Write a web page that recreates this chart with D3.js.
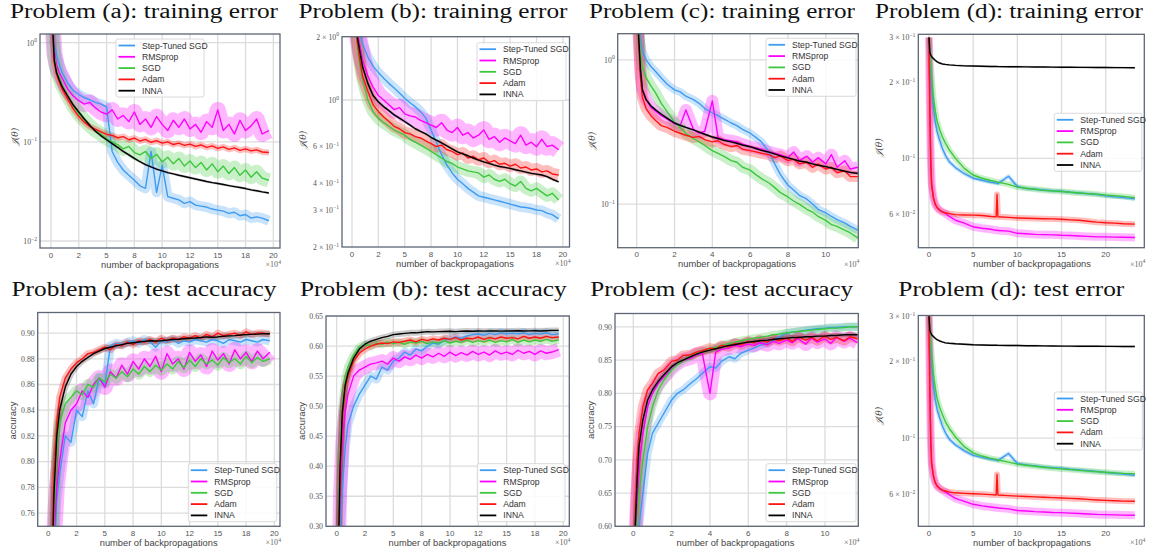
<!DOCTYPE html>
<html><head><meta charset="utf-8">
<script src="https://cdn.jsdelivr.net/npm/d3@7"></script>
<style>body{margin:0;background:#fff}svg{display:block}</style>
</head><body><svg id="c" width="1153" height="554"></svg>
<script>
// ---------------- DATA ----------------
const SERIES = ["Step-Tuned SGD", "RMSprop", "SGD", "Adam", "INNA"];

// x positions (units of 1e4 backpropagations)
const X_AB = [0,0.3,0.5,0.75,1,1.5,2,2.5,3,3.5,4,4.5,5,5.5,6,6.5,7,7.5,8,8.5,9,9.5,10,10.5,11,11.5,12,12.5,13,13.5,14,14.5,15,15.5,16,16.5,17,17.5,18,18.5,19,19.6];
const X_C = [0,0.1,0.2,0.3,0.5,0.75,1,1.3,1.6,2,2.3,2.6,3,3.3,3.6,4,4.3,4.6,5,5.3,5.6,6,6.3,6.6,7,7.3,7.6,8,8.3,8.6,9,9.3,9.6,10,10.3,10.6,11,11.3,11.7];
const X_D = [0,0.1,0.2,0.3,0.5,0.7,0.9,1.2,1.5,1.85,2.3,3,4,5,6,7,7.6,7.7,7.8,9,10,11,12,13,14,15,16,17,18,19,20,21,22,23.3];

// tick labels
const X_TICKS_AB = [0,2.5,5,7.5,10,12.5,15,17.5,20];
const X_LABELS_AB = ["0","2","5","8","10","12","15","18","20"];
const X_TICKS_C = [0,2,4,6,8,10];
const X_LABELS_C = ["0","2","4","6","8","10"];
const X_TICKS_D = [0,5,10,15,20];
const X_LABELS_D = ["0","5","10","15","20"];

const Y_TICKS_A_TRAIN = [1,0.1,0.01];
const Y_LABELS_A_TRAIN = ["10^0","10^\u22121","10^\u22122"];
const Y_TICKS_B_TRAIN = [2,1,0.6,0.4,0.3,0.2];
const Y_LABELS_B_TRAIN = ["2 \u00d7 10^0","10^0","6 \u00d7 10^\u22121","4 \u00d7 10^\u22121","3 \u00d7 10^\u22121","2 \u00d7 10^\u22121"];
const Y_TICKS_C_TRAIN = [1,0.1];
const Y_LABELS_C_TRAIN = ["10^0","10^\u22121"];
const Y_TICKS_D = [0.3,0.2,0.1,0.06];
const Y_LABELS_D = ["3 \u00d7 10^\u22121","2 \u00d7 10^\u22121","10^\u22121","6 \u00d7 10^\u22122"];
const Y_TICKS_A_TEST = [0.76,0.78,0.80,0.82,0.84,0.86,0.88,0.90];
const Y_LABELS_A_TEST = ["0.76","0.78","0.80","0.82","0.84","0.86","0.88","0.90"];
const Y_TICKS_B_TEST = [0.30,0.35,0.40,0.45,0.50,0.55,0.60,0.65];
const Y_LABELS_B_TEST = ["0.30","0.35","0.40","0.45","0.50","0.55","0.60","0.65"];
const Y_TICKS_C_TEST = [0.60,0.65,0.70,0.75,0.80,0.85,0.90];
const Y_LABELS_C_TEST = ["0.60","0.65","0.70","0.75","0.80","0.85","0.90"];

// Problem (a): training error
const A_TRAIN_STEP = [3.0,1.0,0.75,0.6,0.5,0.39,0.33,0.3,0.28,0.265,0.25,0.24,0.225,0.08,0.062,0.052,0.046,0.041,0.036,0.034,0.08,0.031,0.058,0.028,0.027,0.026,0.024,0.025,0.023,0.0225,0.022,0.021,0.0205,0.02,0.019,0.0195,0.018,0.0185,0.017,0.0175,0.017,0.016];
const A_TRAIN_RMS = [3.0,0.8,0.6,0.5,0.44,0.34,0.29,0.26,0.24,0.25,0.22,0.2,0.19,0.21,0.17,0.185,0.16,0.2,0.15,0.17,0.14,0.18,0.15,0.13,0.165,0.14,0.17,0.135,0.15,0.125,0.16,0.14,0.21,0.13,0.15,0.12,0.165,0.13,0.145,0.17,0.12,0.13];
const A_TRAIN_SGD = [3.0,0.72,0.53,0.44,0.37,0.29,0.23,0.19,0.165,0.145,0.13,0.12,0.108,0.1,0.094,0.085,0.09,0.078,0.074,0.08,0.068,0.075,0.063,0.07,0.06,0.068,0.057,0.064,0.055,0.062,0.052,0.06,0.05,0.057,0.048,0.055,0.046,0.052,0.044,0.05,0.043,0.041];
const A_TRAIN_ADAM = [3.0,0.64,0.48,0.4,0.34,0.27,0.215,0.18,0.158,0.142,0.134,0.126,0.119,0.116,0.11,0.113,0.105,0.109,0.102,0.106,0.099,0.103,0.097,0.1,0.094,0.097,0.092,0.095,0.09,0.093,0.088,0.091,0.086,0.089,0.084,0.087,0.082,0.085,0.081,0.083,0.079,0.078];
const A_TRAIN_INNA = [3.0,0.66,0.5,0.42,0.36,0.29,0.235,0.2,0.17,0.146,0.128,0.115,0.105,0.096,0.088,0.08,0.074,0.068,0.063,0.059,0.056,0.053,0.051,0.049,0.0475,0.046,0.0447,0.0435,0.0422,0.041,0.0398,0.0388,0.038,0.0371,0.0362,0.0354,0.0346,0.0338,0.0328,0.0321,0.0313,0.0305];

// Problem (b): training error
const B_TRAIN_STEP = [4.0,3.0,2.4,2.1,1.85,1.6,1.45,1.35,1.27,1.2,1.14,1.08,1.02,0.97,0.93,0.88,0.82,0.72,0.63,0.55,0.49,0.45,0.42,0.4,0.38,0.365,0.35,0.345,0.34,0.335,0.33,0.325,0.32,0.315,0.31,0.308,0.305,0.3,0.298,0.29,0.285,0.272];
const B_TRAIN_RMS = [4.0,2.7,2.1,1.8,1.55,1.3,1.15,1.05,1.0,0.95,0.9,0.92,0.86,0.84,0.83,0.8,0.78,0.76,0.74,0.78,0.72,0.7,0.74,0.68,0.7,0.66,0.68,0.72,0.65,0.67,0.63,0.66,0.64,0.62,0.68,0.61,0.63,0.6,0.65,0.6,0.61,0.58];
const B_TRAIN_SGD = [4.0,2.4,1.8,1.45,1.25,1.0,0.88,0.82,0.78,0.75,0.72,0.7,0.68,0.65,0.63,0.61,0.59,0.57,0.55,0.53,0.51,0.5,0.48,0.47,0.46,0.455,0.45,0.43,0.44,0.42,0.41,0.42,0.4,0.39,0.41,0.38,0.37,0.38,0.365,0.35,0.36,0.335];
const B_TRAIN_ADAM = [4.0,2.5,1.9,1.55,1.3,1.1,0.95,0.88,0.83,0.79,0.75,0.73,0.7,0.69,0.67,0.66,0.64,0.62,0.6,0.61,0.58,0.57,0.55,0.56,0.53,0.54,0.52,0.53,0.505,0.515,0.495,0.5,0.485,0.495,0.475,0.48,0.465,0.47,0.455,0.46,0.445,0.44];
const B_TRAIN_INNA = [4.0,2.6,2.0,1.7,1.44,1.2,1.05,0.98,0.93,0.89,0.85,0.82,0.79,0.76,0.73,0.71,0.69,0.665,0.645,0.625,0.605,0.585,0.567,0.555,0.543,0.53,0.518,0.508,0.5,0.49,0.483,0.478,0.473,0.466,0.46,0.454,0.448,0.444,0.44,0.432,0.42,0.408];

// Problem (c): training error
const C_TRAIN_STEP = [4.0,2.0,1.4,1.15,1.0,0.9,0.83,0.75,0.68,0.62,0.6,0.56,0.53,0.5,0.46,0.43,0.41,0.39,0.365,0.35,0.33,0.31,0.29,0.27,0.23,0.19,0.16,0.135,0.125,0.115,0.108,0.1,0.092,0.087,0.082,0.078,0.074,0.07,0.066];
const C_TRAIN_RMS = [4.0,1.5,0.85,0.63,0.53,0.47,0.44,0.41,0.39,0.36,0.35,0.45,0.33,0.31,0.32,0.52,0.29,0.28,0.275,0.27,0.26,0.25,0.245,0.24,0.23,0.225,0.22,0.21,0.23,0.2,0.215,0.195,0.21,0.19,0.22,0.18,0.2,0.175,0.18];
const C_TRAIN_SGD = [4.0,1.7,1.1,0.9,0.75,0.66,0.59,0.5,0.44,0.37,0.34,0.31,0.285,0.27,0.255,0.235,0.225,0.215,0.2,0.195,0.18,0.172,0.16,0.15,0.14,0.13,0.12,0.112,0.105,0.1,0.092,0.088,0.082,0.077,0.072,0.07,0.066,0.063,0.058];
const C_TRAIN_ADAM = [4.0,1.4,0.75,0.55,0.46,0.41,0.38,0.35,0.34,0.32,0.31,0.3,0.29,0.295,0.28,0.27,0.275,0.26,0.25,0.255,0.24,0.235,0.23,0.225,0.22,0.21,0.215,0.2,0.205,0.19,0.195,0.18,0.19,0.175,0.18,0.165,0.17,0.155,0.155];
const C_TRAIN_INNA = [4.0,1.5,0.85,0.62,0.53,0.48,0.45,0.42,0.395,0.365,0.352,0.34,0.327,0.316,0.305,0.292,0.285,0.277,0.27,0.264,0.257,0.25,0.243,0.236,0.229,0.223,0.216,0.209,0.204,0.199,0.195,0.19,0.186,0.182,0.178,0.174,0.169,0.166,0.163];

// Problem (d): training error
const D_TRAIN_STEP = [0.3,0.25,0.22,0.195,0.16,0.14,0.128,0.118,0.11,0.103,0.097,0.092,0.087,0.0835,0.082,0.0805,0.08,0.0798,0.0795,0.085,0.0775,0.076,0.0755,0.075,0.0745,0.0742,0.0735,0.073,0.0725,0.072,0.0712,0.0705,0.07,0.0692];
const D_TRAIN_RMS = [0.3,0.16,0.1,0.08,0.07,0.066,0.064,0.0625,0.0615,0.0607,0.059,0.057,0.0555,0.0537,0.053,0.0525,0.052,0.0521,0.0519,0.0516,0.0506,0.0504,0.0501,0.05,0.0499,0.0497,0.0496,0.0494,0.0492,0.049,0.049,0.0489,0.0488,0.0487];
const D_TRAIN_SGD = [0.3,0.26,0.232,0.21,0.175,0.155,0.141,0.13,0.122,0.115,0.108,0.1,0.0913,0.086,0.0835,0.0818,0.081,0.0808,0.0806,0.079,0.077,0.0762,0.0755,0.0748,0.0743,0.074,0.0735,0.073,0.0726,0.0722,0.0716,0.0712,0.0708,0.070];
const D_TRAIN_ADAM = [0.3,0.15,0.095,0.078,0.07,0.066,0.064,0.0625,0.0615,0.061,0.0605,0.06,0.0598,0.0597,0.0595,0.059,0.0588,0.072,0.0588,0.0585,0.0582,0.058,0.0579,0.0578,0.0577,0.0575,0.0572,0.057,0.0565,0.056,0.0557,0.0555,0.0552,0.055];
const D_TRAIN_INNA = [0.3,0.262,0.255,0.252,0.248,0.244,0.241,0.238,0.236,0.235,0.234,0.233,0.232,0.2315,0.231,0.2307,0.2305,0.2305,0.2304,0.2302,0.23,0.2298,0.2296,0.2294,0.2292,0.229,0.2289,0.2288,0.2287,0.2285,0.2284,0.2283,0.2282,0.228];

// Problem (a): test accuracy
const A_TEST_STEP = [0.3,0.6,0.73,0.77,0.79,0.82,0.815,0.84,0.835,0.855,0.845,0.865,0.86,0.89,0.892,0.891,0.893,0.894,0.892,0.895,0.893,0.889,0.894,0.893,0.895,0.892,0.894,0.893,0.895,0.894,0.893,0.895,0.894,0.892,0.895,0.894,0.893,0.895,0.894,0.893,0.895,0.894];
const A_TEST_RMS = [0.3,0.62,0.74,0.78,0.8,0.83,0.84,0.845,0.855,0.85,0.86,0.865,0.858,0.87,0.865,0.875,0.868,0.878,0.872,0.88,0.874,0.882,0.87,0.884,0.876,0.88,0.872,0.885,0.878,0.883,0.874,0.886,0.879,0.884,0.876,0.887,0.88,0.885,0.878,0.886,0.88,0.885];
const A_TEST_SGD = [0.3,0.66,0.76,0.81,0.83,0.845,0.85,0.855,0.852,0.86,0.858,0.865,0.862,0.868,0.865,0.87,0.866,0.872,0.868,0.874,0.87,0.875,0.871,0.876,0.872,0.878,0.873,0.879,0.874,0.88,0.876,0.879,0.875,0.881,0.877,0.88,0.876,0.882,0.877,0.881,0.878,0.88];
const A_TEST_ADAM = [0.3,0.72,0.79,0.83,0.85,0.865,0.872,0.877,0.88,0.884,0.885,0.887,0.889,0.887,0.891,0.89,0.893,0.891,0.894,0.893,0.895,0.893,0.896,0.894,0.896,0.895,0.897,0.896,0.898,0.896,0.899,0.897,0.9,0.898,0.899,0.9,0.898,0.901,0.899,0.9,0.9,0.899];
const A_TEST_INNA = [0.3,0.7,0.775,0.82,0.84,0.858,0.868,0.874,0.878,0.881,0.884,0.886,0.888,0.889,0.89,0.891,0.892,0.8925,0.893,0.8935,0.894,0.8938,0.894,0.8945,0.895,0.8952,0.8956,0.896,0.8962,0.8965,0.897,0.8968,0.897,0.8975,0.8978,0.898,0.8985,0.8988,0.899,0.8992,0.8995,0.8995];

// Problem (b): test accuracy
const B_TEST_STEP = [0.1,0.28,0.36,0.43,0.47,0.5,0.52,0.535,0.55,0.545,0.565,0.56,0.575,0.58,0.59,0.585,0.595,0.592,0.6,0.605,0.603,0.61,0.612,0.615,0.613,0.617,0.619,0.62,0.618,0.621,0.619,0.622,0.62,0.621,0.62,0.622,0.619,0.621,0.62,0.622,0.619,0.62];
const B_TEST_RMS = [0.1,0.35,0.44,0.49,0.52,0.55,0.56,0.565,0.57,0.572,0.575,0.57,0.58,0.575,0.582,0.578,0.585,0.58,0.586,0.582,0.588,0.583,0.59,0.584,0.589,0.585,0.591,0.586,0.59,0.585,0.592,0.587,0.59,0.586,0.593,0.588,0.591,0.586,0.592,0.588,0.59,0.594];
const B_TEST_SGD = [0.1,0.42,0.5,0.545,0.565,0.585,0.598,0.603,0.6,0.605,0.603,0.607,0.604,0.606,0.603,0.607,0.605,0.608,0.604,0.607,0.605,0.609,0.605,0.608,0.606,0.61,0.606,0.609,0.607,0.61,0.606,0.609,0.607,0.611,0.606,0.61,0.607,0.61,0.608,0.611,0.608,0.61];
const B_TEST_ADAM = [0.1,0.38,0.48,0.53,0.55,0.575,0.588,0.595,0.6,0.603,0.605,0.604,0.607,0.606,0.608,0.61,0.607,0.611,0.609,0.612,0.61,0.613,0.611,0.614,0.61,0.613,0.612,0.615,0.611,0.614,0.612,0.615,0.613,0.614,0.612,0.616,0.613,0.615,0.613,0.616,0.614,0.615];
const B_TEST_INNA = [0.1,0.4,0.49,0.535,0.555,0.58,0.595,0.603,0.608,0.611,0.614,0.616,0.619,0.62,0.621,0.622,0.622,0.623,0.624,0.6235,0.624,0.6242,0.6245,0.624,0.6245,0.625,0.6245,0.625,0.6248,0.6252,0.625,0.6248,0.6252,0.625,0.6255,0.625,0.6252,0.6255,0.625,0.6255,0.626,0.626];

// Problem (c): test accuracy
const C_TEST_STEP = [0.3,0.45,0.55,0.6,0.65,0.71,0.74,0.755,0.77,0.79,0.8,0.805,0.815,0.822,0.83,0.84,0.838,0.848,0.855,0.852,0.86,0.865,0.868,0.872,0.875,0.88,0.885,0.89,0.892,0.893,0.895,0.896,0.897,0.898,0.899,0.899,0.9,0.9,0.9];
const C_TEST_RMS = [0.3,0.58,0.64,0.69,0.74,0.78,0.8,0.815,0.825,0.838,0.845,0.85,0.853,0.858,0.86,0.8,0.862,0.866,0.868,0.872,0.87,0.874,0.872,0.876,0.873,0.878,0.875,0.88,0.876,0.882,0.874,0.883,0.877,0.882,0.875,0.884,0.878,0.883,0.876];
const C_TEST_SGD = [0.3,0.55,0.6,0.65,0.7,0.75,0.78,0.805,0.82,0.835,0.843,0.85,0.855,0.86,0.863,0.866,0.869,0.872,0.875,0.877,0.879,0.881,0.883,0.884,0.886,0.888,0.889,0.891,0.892,0.893,0.894,0.895,0.896,0.897,0.898,0.898,0.899,0.9,0.9];
const C_TEST_ADAM = [0.3,0.62,0.7,0.74,0.78,0.805,0.815,0.83,0.835,0.848,0.85,0.857,0.858,0.862,0.864,0.868,0.866,0.872,0.87,0.875,0.873,0.878,0.876,0.88,0.877,0.882,0.879,0.883,0.878,0.885,0.88,0.884,0.879,0.886,0.881,0.884,0.879,0.885,0.882];
const C_TEST_INNA = [0.3,0.6,0.67,0.72,0.76,0.79,0.805,0.818,0.828,0.84,0.846,0.85,0.855,0.859,0.862,0.865,0.867,0.869,0.872,0.873,0.875,0.877,0.878,0.879,0.88,0.881,0.882,0.883,0.884,0.884,0.885,0.885,0.886,0.886,0.887,0.887,0.888,0.888,0.888];

// Problem (d): test error
const D_TEST_STEP = [0.3,0.25,0.22,0.196,0.162,0.142,0.13,0.12,0.112,0.105,0.099,0.094,0.089,0.0855,0.084,0.0825,0.082,0.0818,0.0815,0.087,0.0795,0.0785,0.0778,0.077,0.0765,0.0762,0.0755,0.075,0.0745,0.074,0.0733,0.0728,0.0722,0.0715];
const D_TEST_RMS = [0.3,0.16,0.1,0.08,0.071,0.067,0.065,0.0635,0.0625,0.0615,0.06,0.058,0.0565,0.055,0.0542,0.0537,0.0533,0.0534,0.0532,0.0528,0.052,0.0518,0.0515,0.0513,0.0511,0.051,0.0508,0.0506,0.0504,0.0502,0.0501,0.05,0.0499,0.0498];
const D_TEST_SGD = [0.3,0.26,0.233,0.212,0.178,0.158,0.144,0.132,0.124,0.116,0.109,0.101,0.0925,0.0875,0.085,0.0832,0.0825,0.0823,0.082,0.0805,0.079,0.0782,0.0775,0.0768,0.0762,0.0757,0.0752,0.0747,0.0742,0.0738,0.0734,0.073,0.0727,0.0725];
const D_TEST_ADAM = [0.3,0.15,0.096,0.079,0.071,0.067,0.065,0.0635,0.0625,0.062,0.0614,0.061,0.0607,0.0605,0.0603,0.06,0.0598,0.072,0.0598,0.0595,0.0592,0.059,0.0588,0.0586,0.0584,0.0582,0.058,0.0578,0.0575,0.0572,0.057,0.0568,0.0566,0.0565];
const D_TEST_INNA = [0.3,0.265,0.258,0.254,0.25,0.246,0.243,0.24,0.238,0.236,0.235,0.234,0.233,0.232,0.2315,0.231,0.2308,0.2308,0.2307,0.2305,0.2303,0.23,0.2298,0.2296,0.2294,0.2292,0.229,0.2289,0.2288,0.2287,0.2286,0.2285,0.2284,0.2283];

// ---------------- STYLE / LAYOUT ----------------
const COLORS = ["#3d9cf2", "#ff00ff", "#3cc83c", "#ff1414", "#000000"];
const JT = "\ud835\udca5(\u03b8)";
// band (spread) stroke widths per series: Step-Tuned, RMSprop, SGD, Adam, INNA
const PANELS = [
  {title:"Problem (a): training error", tx:144, ty:18, tw:268, frame:[40,34,280,248], xd:[-0.99,20.6], log:true, yd:[0.0085,1.224],
   xt:X_TICKS_AB, xl:X_LABELS_AB, yt:Y_TICKS_A_TRAIN, yl:Y_LABELS_A_TRAIN, yg:[1,0.1,0.01], xs:X_AB,
   ys:[A_TRAIN_STEP,A_TRAIN_RMS,A_TRAIN_SGD,A_TRAIN_ADAM,A_TRAIN_INNA], leg:[116,39,88], ylab:JT, ylp:[15,137], xlx:160, bw:[10,16,14,6,2.5]},
  {title:"Problem (b): training error", tx:433, ty:18, tw:269, frame:[342,36.7,569.5,247], xd:[-0.95,20.63], log:true, yd:[0.2,2],
   xt:X_TICKS_AB, xl:X_LABELS_AB, yt:Y_TICKS_B_TRAIN, yl:Y_LABELS_B_TRAIN, yg:[1], xs:X_AB,
   ys:[B_TRAIN_STEP,B_TRAIN_RMS,B_TRAIN_SGD,B_TRAIN_ADAM,B_TRAIN_INNA], leg:[477,42.7,89], ylab:JT, ylp:[303,140], xlx:455, bw:[10,18,12,12,2.5]},
  {title:"Problem (c): training error", tx:722, ty:18, tw:266, frame:[617.7,33.7,858.3,247.7], xd:[-1.005,11.72], log:true, yd:[0.0498,1.52],
   xt:X_TICKS_C, xl:X_LABELS_C, yt:Y_TICKS_C_TRAIN, yl:Y_LABELS_C_TRAIN, yg:[1,0.1], xs:X_C,
   ys:[C_TRAIN_STEP,C_TRAIN_RMS,C_TRAIN_SGD,C_TRAIN_ADAM,C_TRAIN_INNA], leg:[766,38.3,90], ylab:JT, ylp:[592,141], xlx:737, bw:[8,12,11,11,2.5]},
  {title:"Problem (d): training error", tx:1009, ty:18, tw:268, frame:[918.3,34.3,1144.3,247.7], xd:[-1.21,24.37], log:true, yd:[0.0444,0.309],
   xt:X_TICKS_D, xl:X_LABELS_D, yt:Y_TICKS_D, yl:Y_LABELS_D, yg:[0.1], xs:X_D,
   ys:[D_TRAIN_STEP,D_TRAIN_RMS,D_TRAIN_SGD,D_TRAIN_ADAM,D_TRAIN_INNA], leg:[1054.3,113.3,87.5], ylab:JT, ylp:[879,147.5], xlx:1032, bw:[4,8,6,6,2]},
  {title:"Problem (a): test accuracy", tx:144, ty:296, tw:265, frame:[37.7,312.5,280,526.3], xd:[-0.94,20.5], log:false, yd:[0.7497,0.916],
   xt:X_TICKS_AB, xl:X_LABELS_AB, yt:Y_TICKS_A_TEST, yl:Y_LABELS_A_TEST, yg:Y_TICKS_A_TEST, xs:X_AB,
   ys:[A_TEST_STEP,A_TEST_RMS,A_TEST_SGD,A_TEST_ADAM,A_TEST_INNA], leg:[188.3,463.7,88.4], ylab:"accuracy", ylp:[12.7,420.5], xlx:158.7, bw:[9,16,11,7,6]},
  {title:"Problem (b): test accuracy", tx:433.3, ty:296, tw:266.7, frame:[326,316,569.3,526.3], xd:[-0.94,20.53], log:false, yd:[0.30,0.65],
   xt:X_TICKS_AB, xl:X_LABELS_AB, yt:Y_TICKS_B_TEST, yl:Y_LABELS_B_TEST, yg:Y_TICKS_B_TEST, xs:X_AB,
   ys:[B_TEST_STEP,B_TEST_RMS,B_TEST_SGD,B_TEST_ADAM,B_TEST_INNA], leg:[477.3,463.7,87.7], ylab:"accuracy", ylp:[301.7,421], xlx:447.5, bw:[9,14,8,7,6]},
  {title:"Problem (c): test accuracy", tx:721.7, ty:296, tw:263, frame:[615,313.5,858.3,526.3], xd:[-0.955,11.74], log:false, yd:[0.60,0.92],
   xt:X_TICKS_C, xl:X_LABELS_C, yt:Y_TICKS_C_TEST, yl:Y_LABELS_C_TEST, yg:Y_TICKS_C_TEST, xs:X_C,
   ys:[C_TEST_STEP,C_TEST_RMS,C_TEST_SGD,C_TEST_ADAM,C_TEST_INNA], leg:[766,463.7,90], ylab:"accuracy", ylp:[591.2,420], xlx:735.5, bw:[8,14,8,10,5]},
  {title:"Problem (d): test error", tx:1011.3, ty:296, tw:226, frame:[918.3,315.5,1144.3,526.3], xd:[-1.21,24.37], log:true, yd:[0.0451,0.302],
   xt:X_TICKS_D, xl:X_LABELS_D, yt:Y_TICKS_D, yl:Y_LABELS_D, yg:[0.1], xs:X_D,
   ys:[D_TEST_STEP,D_TEST_RMS,D_TEST_SGD,D_TEST_ADAM,D_TEST_INNA], leg:[1054.3,392,88], ylab:JT, ylp:[879,416], xlx:1032, bw:[4,8,6,6,2]}
];

// ---------------- DRAW ----------------
const svg = d3.select("#c");
svg.append("rect").attr("width",1153).attr("height",554).attr("fill","#fff");

function rich(sel, str, fs) {
  const parts = str.split("^");
  sel.append("tspan").text(parts[0]);
  if (parts.length > 1) {
    sel.append("tspan").attr("font-size", fs * 0.72).attr("dy", -fs * 0.42).text(parts[1]);
  }
}

PANELS.forEach((p, pi) => {
  const [x0, y0, x1, y1] = p.frame;
  const xs = d3.scaleLinear().domain(p.xd).range([x0, x1]);
  const ys = (p.log ? d3.scaleLog() : d3.scaleLinear()).domain(p.yd).range([y1, y0]);
  const g = svg.append("g");

  // title
  g.append("text").attr("x", p.tx).attr("y", p.ty).attr("text-anchor", "middle")
    .attr("font-family", "'Liberation Serif',serif").attr("font-size", 20).attr("font-weight", 400)
    .attr("fill", "#111").attr("textLength", p.tw).attr("lengthAdjust", "spacingAndGlyphs").text(p.title);

  // grid
  g.selectAll(".vg").data(p.xt).enter().append("line")
    .attr("x1", d => xs(d)).attr("x2", d => xs(d)).attr("y1", y0).attr("y2", y1)
    .attr("stroke", "#dcdcdc").attr("stroke-width", 1.3);
  g.selectAll(".hg").data(p.yg).enter().append("line")
    .attr("y1", d => ys(d)).attr("y2", d => ys(d)).attr("x1", x0).attr("x2", x1)
    .attr("stroke", "#dcdcdc").attr("stroke-width", 1.3);

  // clip
  const cid = "clip" + pi;
  svg.append("clipPath").attr("id", cid).append("rect")
    .attr("x", x0).attr("y", y0).attr("width", x1 - x0).attr("height", y1 - y0);
  const plot = g.append("g").attr("clip-path", `url(#${cid})`);

  const line = d3.line().x((d, i) => xs(p.xs[i])).y(d => ys(d));
  p.ys.forEach((vals, si) => {
    plot.append("path").datum(vals).attr("d", line).attr("fill", "none")
      .attr("stroke", COLORS[si]).attr("stroke-opacity", si === 4 ? 0.2 : 0.28)
      .attr("stroke-width", p.bw[si]).attr("stroke-linejoin", "round").attr("stroke-linecap", "butt");
  });
  p.ys.forEach((vals, si) => {
    plot.append("path").datum(vals).attr("d", line).attr("fill", "none")
      .attr("stroke", COLORS[si]).attr("stroke-width", 1.4).attr("stroke-linejoin", "round");
  });

  // frame
  g.append("rect").attr("x", x0).attr("y", y0).attr("width", x1 - x0).attr("height", y1 - y0)
    .attr("fill", "none").attr("stroke", "#5d6674").attr("stroke-width", 1.3);

  // x tick labels
  g.selectAll(".xt").data(p.xt).enter().append("text")
    .attr("x", d => xs(d)).attr("y", y1 + 9.5).attr("text-anchor", "middle")
    .attr("font-family", "'Liberation Sans',Arial,sans-serif").attr("font-size", 8)
    .attr("fill", "#555").text((d, i) => p.xl[i]);

  // y tick labels
  p.yt.forEach((d, i) => {
    const t = g.append("text").attr("x", x0 - 3).attr("y", ys(d) + 2.8).attr("text-anchor", "end")
      .attr("font-family", "'Liberation Serif','DejaVu Serif',serif").attr("font-size", 7.8).attr("fill", "#555");
    rich(t, p.yl[i], 7.8);
  });

  // x label
  g.append("text").attr("x", p.xlx).attr("y", y1 + 19.5).attr("text-anchor", "middle")
    .attr("font-family", "'Liberation Sans',Arial,sans-serif").attr("font-size", 9.3)
    .attr("fill", "#444").text("number of backpropagations");
  const xm = g.append("text").attr("x", x1 + 1).attr("y", y1 + 19).attr("text-anchor", "end")
    .attr("font-family", "'Liberation Serif','DejaVu Serif',serif").attr("font-size", 8).attr("fill", "#666");
  rich(xm, "\u00d710^4", 8);

  // y label
  const isAcc = p.ylab === "accuracy";
  g.append("text").attr("transform", `translate(${p.ylp[0] + 3},${p.ylp[1]}) rotate(-90)`)
    .attr("text-anchor", "middle")
    .attr("font-family", isAcc ? "'Liberation Sans',Arial,sans-serif" : "'DejaVu Serif','Liberation Serif',serif")
    .attr("font-style", isAcc ? "normal" : "italic")
    .attr("font-size", isAcc ? 9.5 : 9).attr("fill", "#444").text(p.ylab);

  // legend
  const [lx, ly, lw] = p.leg;
  const lg = g.append("g");
  lg.append("rect").attr("x", lx).attr("y", ly).attr("width", lw).attr("height", 58)
    .attr("rx", 2).attr("fill", "#fff").attr("fill-opacity", 0.85).attr("stroke", "#d0d0d0").attr("stroke-width", 0.8);
  SERIES.forEach((s, si) => {
    const cy = ly + 6.5 + si * 11.3;
    lg.append("line").attr("x1", lx + 2.5).attr("x2", lx + 19).attr("y1", cy).attr("y2", cy)
      .attr("stroke", COLORS[si]).attr("stroke-width", 1.8);
    lg.append("text").attr("x", lx + 26).attr("y", cy + 3).attr("font-family", "'Liberation Sans',Arial,sans-serif")
      .attr("font-size", 8.6).attr("fill", "#333").text(s);
  });
});
</script></body></html>
